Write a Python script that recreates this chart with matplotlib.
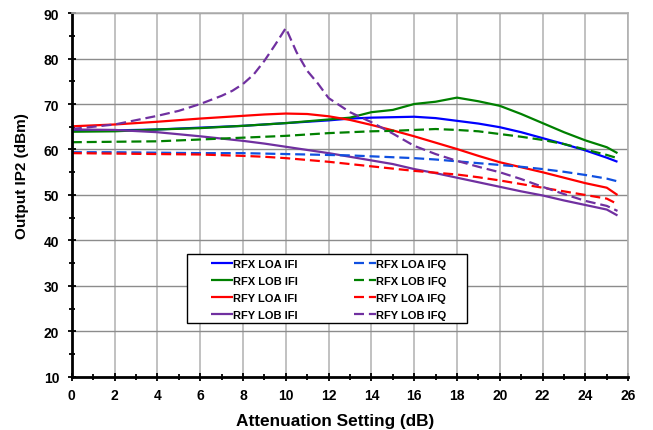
import matplotlib
matplotlib.use("Agg")
import matplotlib.pyplot as plt
from matplotlib.ticker import MultipleLocator
from matplotlib.patches import Rectangle

x = [0, 2, 4, 6, 8, 9, 10, 11, 12, 13, 14, 15, 16, 17, 18, 19, 20, 21, 22, 23, 24, 25, 25.5]

rfx_loa_ifi = [64.1, 64.2, 64.4, 64.8, 65.2, 65.5, 65.8, 66.1, 66.4, 66.8, 67.0, 67.1, 67.2, 66.9, 66.3, 65.7, 64.9, 63.8, 62.5, 61.2, 59.8, 58.2, 57.3]
rfx_lob_ifi = [63.9, 64.0, 64.4, 64.7, 65.2, 65.5, 65.8, 66.2, 66.6, 67.0, 68.2, 68.7, 70.0, 70.5, 71.4, 70.6, 69.6, 67.8, 65.8, 63.8, 62.0, 60.5, 59.2]
rfy_loa_ifi = [65.1, 65.5, 66.1, 66.8, 67.4, 67.7, 67.9, 67.8, 67.3, 66.5, 65.4, 64.2, 62.9, 61.5, 60.1, 58.6, 57.2, 56.1, 55.0, 53.8, 52.6, 51.6, 50.0]
rfy_lob_ifi = [64.4, 64.3, 63.8, 62.9, 61.9, 61.3, 60.6, 59.9, 59.2, 58.4, 57.6, 56.8, 55.7, 54.8, 53.8, 52.8, 51.8, 50.8, 49.9, 48.8, 47.8, 46.8, 45.5]

rfx_loa_ifq = [59.4, 59.4, 59.3, 59.2, 59.2, 59.1, 59.0, 58.9, 58.8, 58.7, 58.5, 58.3, 58.1, 57.8, 57.4, 57.0, 56.6, 56.2, 55.7, 55.1, 54.4, 53.6, 53.0]
rfx_lob_ifq = [61.6, 61.7, 61.8, 62.2, 62.6, 62.8, 63.0, 63.3, 63.6, 63.8, 64.0, 64.1, 64.3, 64.5, 64.3, 64.0, 63.4, 62.8, 62.1, 61.2, 60.0, 58.8, 58.1]
rfy_loa_ifq = [59.2, 59.1, 59.0, 58.9, 58.6, 58.4, 58.1, 57.7, 57.3, 56.8, 56.3, 55.8, 55.3, 54.9, 54.5, 53.9, 53.2, 52.4, 51.6, 50.8, 50.0, 49.2, 48.0]

x_lob_ifq = [0, 2, 4, 5, 6, 7, 7.5, 8, 8.5, 9, 9.5, 10, 10.5, 11, 11.5, 12, 13, 14, 15, 16, 17, 18, 19, 20, 21, 22, 23, 24, 25, 25.5]
rfy_lob_ifq = [64.5, 65.5, 67.4, 68.5, 70.0, 71.8, 72.9, 74.4, 76.5, 79.5, 83.0, 86.7, 81.4, 77.3, 74.5, 71.3, 68.2, 66.0, 63.5, 60.8, 59.0, 57.5, 56.2, 55.0, 53.5, 51.8, 50.2, 48.7, 47.6, 46.5]

labels_ifi = ["RFX LOA IFI", "RFX LOB IFI", "RFY LOA IFI", "RFY LOB IFI"]
labels_ifq = ["RFX LOA IFQ", "RFX LOB IFQ", "RFY LOA IFQ", "RFY LOB IFQ"]
colors_ifi = ["#0000ff", "#008000", "#ff0000", "#7030a0"]
colors_ifq = ["#1050e0", "#008000", "#ff0000", "#7030a0"]

regular = ["Liberation Sans", "DejaVu Sans"]

fig = plt.figure(figsize=(6.53, 4.31), dpi=100)
ax = fig.add_axes([0.110, 0.123, 0.852, 0.8445])

lw = 1.6
handles = []
for ys, lab, c in zip([rfx_loa_ifi, rfx_lob_ifi, rfy_loa_ifi, rfy_lob_ifi], labels_ifi, colors_ifi):
    h, = ax.plot(x, ys, color=c, lw=lw, label=lab, solid_capstyle='butt')
    handles.append(h)
for xs, ys, lab, c in zip([x, x, x, x_lob_ifq], [rfx_loa_ifq, rfx_lob_ifq, rfy_loa_ifq, rfy_lob_ifq], labels_ifq, colors_ifq):
    h, = ax.plot(xs, ys, color=c, lw=lw, label=lab, dashes=(4.5, 2.2))
    handles.append(h)

ax.set_xlim(0, 26)
ax.set_ylim(10, 90)
ax.xaxis.set_major_locator(MultipleLocator(2))
ax.xaxis.set_minor_locator(MultipleLocator(1))
ax.yaxis.set_major_locator(MultipleLocator(10))
ax.yaxis.set_minor_locator(MultipleLocator(5))
ax.xaxis.grid(True, which='major', color='#b0b0b0', lw=1.1)
ax.yaxis.grid(True, which='major', color='#8c8c8c', lw=1.0)
ax.set_axisbelow(True)
ax.tick_params(which='both', direction='inout', width=1.3, color='black')
ax.tick_params(which='major', length=6)
ax.tick_params(which='minor', length=5)
ax.tick_params(axis='x', pad=5)
ax.tick_params(axis='y', pad=6)
for sp in ['left', 'bottom']:
    ax.spines[sp].set_linewidth(2.0)
    ax.spines[sp].set_color('black')
for sp in ['top', 'right']:
    ax.spines[sp].set_linewidth(1.2)
    ax.spines[sp].set_color('#b0b0b0')

for lab in ax.get_xticklabels() + ax.get_yticklabels():
    lab.set_fontfamily(regular)
    lab.set_fontweight('bold')
    lab.set_fontsize(10)

ax.set_xlabel("Attenuation Setting (dB)", fontfamily=regular, fontweight='bold', fontsize=12.4, labelpad=8)
ax.xaxis.label.set_x(0.474)
ax.set_ylabel("Output IP2 (dBm)", fontfamily=regular, fontweight='bold', fontsize=11, labelpad=11)
ax.yaxis.label.set_y(0.556)

# legend box
ax.add_patch(Rectangle((0.2068, 0.1484), 0.5036, 0.1895, transform=ax.transAxes,
                       facecolor='white', edgecolor='black', lw=1.0, zorder=4))
leg = ax.legend(handles=handles, ncol=2, loc='upper left',
                bbox_to_anchor=(0.25, 0.3235),
                prop={'family': regular, 'weight': 'bold', 'size': 8},
                frameon=False,
                handlelength=2.0, handletextpad=0.0, labelspacing=0.61,
                columnspacing=5.0, borderaxespad=0, borderpad=0)
leg.set_zorder(5)

fig.savefig("out.png", dpi=100)
